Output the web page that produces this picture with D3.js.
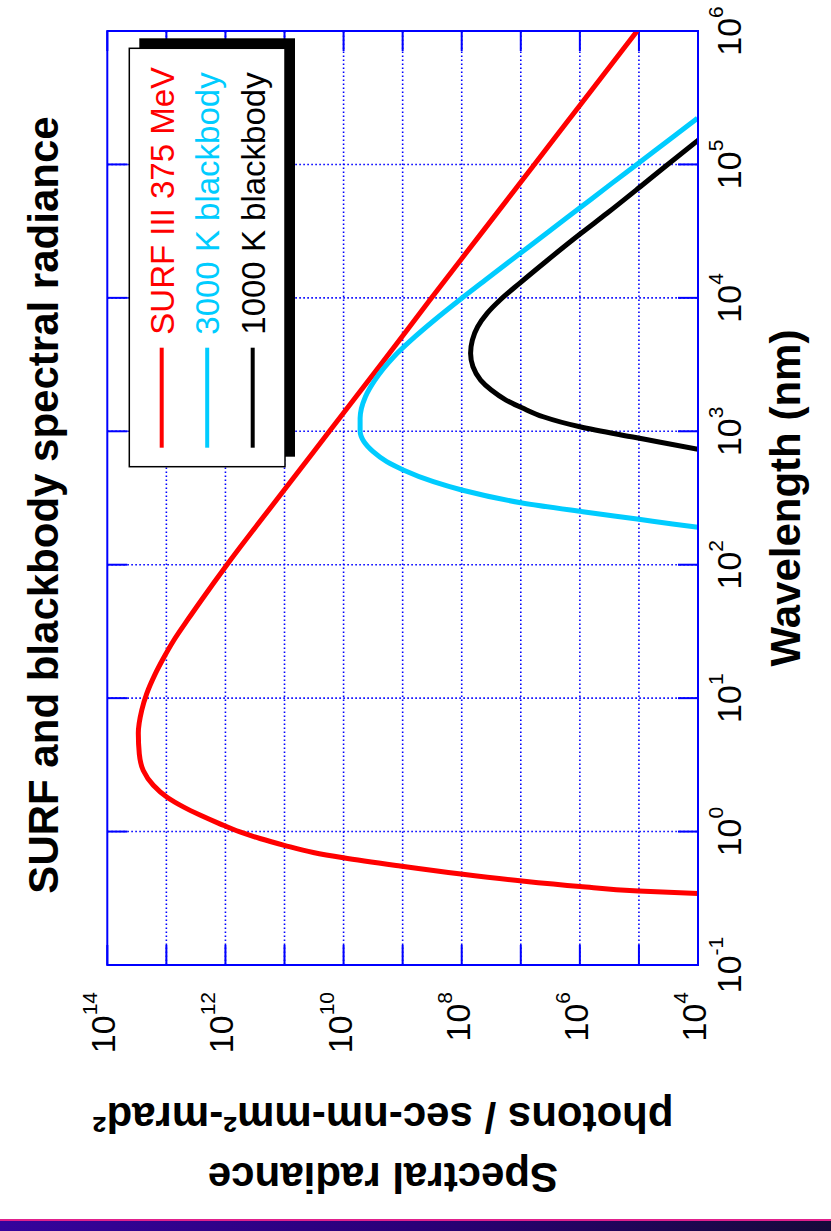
<!DOCTYPE html>
<html>
<head>
<meta charset="utf-8">
<script src="https://cdn.jsdelivr.net/npm/d3@7"></script>
<style>
body { margin: 0; background: #fff; }
svg { display: block; }
text { font-family: "Liberation Sans", Arial, Helvetica, sans-serif; }
</style>
</head>
<body>
<svg id="chart" width="831" height="1231"></svg>
<script>
// values (wavelength in nm, radiance in photons/sec-nm-mm2-mrad2)
var surfWl  = [0.3435, 0.3585, 0.3876, 0.4262, 0.4808, 0.5521, 0.6358, 0.6966, 0.7889, 0.8872, 0.9931,
               1.143, 1.330, 1.531, 1.816, 2.223, 2.871, 3.811, 5.445, 8.147, 10.86, 14.89, 19.91,
               27.29, 38.55, 54.45, 100, 316.2, 1000, 3162, 10000, 31620, 100000, 316200, 1000000];
var surfRad = [1.0e4, 1.014e5, 9.93e5, 9.53e6, 1.028e8, 1.109e9, 1.012e10, 3.258e10, 1.009e11, 2.60e11, 5.675e11,
               1.239e12, 2.698e12, 5.164e12, 9.863e12, 1.663e13, 2.460e13, 2.871e13, 2.985e13, 2.606e13, 2.143e13, 1.578e13, 1.122e13,
               7.430e12, 4.385e12, 2.541e12, 9.419e11, 1.288e11, 1.738e10, 2.344e9, 3.236e8, 4.365e7, 5.888e6, 7.943e5, 1.072e5];

var bb3000Wl  = [190.5, 201.8, 218.8, 249.5, 291.7, 363.1, 418.8, 512.9, 591.6, 703.1, 835.6, 1009, 1250,
                 1816, 2421, 3622, 5117, 6823, 9931, 13610, 21580, 31330, 45500, 72110, 101900, 147900, 221800];
var bb3000Rad = [1.0e4, 2.69e4, 1.0e5, 8.9e5, 1.0e7, 1.0e8, 3.02e8, 9.77e8, 1.86e9, 3.16e9, 4.52e9, 5.25e9, 5.25e9,
                 4.27e9, 2.95e9, 1.41e9, 6.17e8, 2.88e8, 1.0e8, 3.98e7, 1.02e7, 3.39e6, 1.12e6, 2.88e5, 1.02e5, 3.39e4, 1.02e4];

var bb1000Wl  = [732.8, 835.6, 901.6, 1081, 1285, 1493, 1714, 2037, 2421, 3048, 3837, 4831, 6081,
                 7656, 9638, 12850, 18660, 30480, 43050, 68080, 96160, 152400];
var bb1000Rad = [1.0e4, 4.79e4, 1.2e5, 1.0e6, 4.17e6, 9.33e6, 1.78e7, 3.16e7, 4.79e7, 6.46e7, 7.08e7, 6.61e7, 5.37e7,
                 3.72e7, 2.24e7, 1.05e7, 3.8e6, 9.55e5, 3.47e5, 9.5e4, 3.63e4, 9.8e3];

var wlTicks    = [0.1, 1, 10, 100, 1000, 1e4, 1e5, 1e6];
var wlTickExp  = ["-1", "0", "1", "2", "3", "4", "5", "6"];
var radTicks   = [1e4, 1e5, 1e6, 1e7, 1e8, 1e9, 1e10, 1e11, 1e12, 1e13, 1e14];
var radLabeled = [1e4, 1e6, 1e8, 1e10, 1e12, 1e14];
var radTickExp = ["4", "6", "8", "10", "12", "14"];

var seriesNames  = ["SURF III 375 MeV", "3000 K blackbody", "1000 K blackbody"];
var seriesColors = ["#ff0000", "#00ccff", "#000000"];
var titleText = "SURF and blackbody spectral radiance";
var xTitle = "Wavelength (nm)";
var yTitle1 = "Spectral radiance";
var yTitle2 = "photons / sec-nm-mm\u00b2-mrad\u00b2";

var series = [
  {name: seriesNames[0], color: seriesColors[0], pts: d3.zip(surfWl, surfRad)},
  {name: seriesNames[1], color: seriesColors[1], pts: d3.zip(bb3000Wl, bb3000Rad)},
  {name: seriesNames[2], color: seriesColors[2], pts: d3.zip(bb1000Wl, bb1000Rad)}
];

var svg = d3.select("#chart");
var axisBlue = "#0000ff";

// the whole figure is turned a quarter turn counter-clockwise
var g = svg.append("g")
    .attr("transform", "translate(0,1231) rotate(-90)");

var x = d3.scaleLog().domain([0.1, 1e6]).range([266, 1200]);
var y = d3.scaleLog().domain([1e4, 1e14]).range([698, 107.3]);

var x0 = x.range()[0], x1 = x.range()[1];
var y0 = y.range()[1], y1 = y.range()[0];

g.append("defs").append("clipPath").attr("id", "plotclip")
  .append("rect")
    .attr("x", x0).attr("y", y0)
    .attr("width", x1 - x0).attr("height", y1 - y0);

// dotted grid
g.append("g").selectAll("line")
    .data(wlTicks.slice(1, -1))
  .enter().append("line")
    .attr("x1", d => x(d)).attr("x2", d => x(d))
    .attr("y1", y0).attr("y2", y1)
    .attr("stroke", axisBlue).attr("stroke-width", 1.6)
    .attr("stroke-dasharray", "1.6,2.4");

g.append("g").selectAll("line")
    .data(radTicks.slice(1, -1))
  .enter().append("line")
    .attr("x1", x0).attr("x2", x1)
    .attr("y1", d => y(d)).attr("y2", d => y(d))
    .attr("stroke", axisBlue).attr("stroke-width", 1.6)
    .attr("stroke-dasharray", "1.6,2.4");

// ticks on all four sides, pointing inward
var tickLen = 20;
var ticks = g.append("g").attr("stroke", axisBlue).attr("stroke-width", 2);
wlTicks.forEach(function(d) {
  ticks.append("line").attr("x1", x(d)).attr("x2", x(d)).attr("y1", y1).attr("y2", y1 - tickLen);
  ticks.append("line").attr("x1", x(d)).attr("x2", x(d)).attr("y1", y0).attr("y2", y0 + tickLen);
});
radTicks.forEach(function(d) {
  ticks.append("line").attr("x1", x0).attr("x2", x0 + tickLen).attr("y1", y(d)).attr("y2", y(d));
  ticks.append("line").attr("x1", x1).attr("x2", x1 - tickLen).attr("y1", y(d)).attr("y2", y(d));
});

// curves
var line = d3.line()
    .x(d => x(d[0]))
    .y(d => y(d[1]))
    .curve(d3.curveMonotoneX);

g.append("g").attr("clip-path", "url(#plotclip)")
  .selectAll("path")
    .data(series)
  .enter().append("path")
    .attr("d", d => line(d.pts))
    .attr("fill", "none")
    .attr("stroke", d => d.color)
    .attr("stroke-width", 5)
    .attr("stroke-linejoin", "round");

// box
g.append("rect")
    .attr("x", x0).attr("y", y0)
    .attr("width", x1 - x0).attr("height", y1 - y0)
    .attr("fill", "none")
    .attr("stroke", axisBlue).attr("stroke-width", 2);

// wavelength tick labels
var xl = g.append("g").selectAll("text")
    .data(wlTicks)
  .enter().append("text")
    .attr("x", d => x(d))
    .attr("y", 741)
    .attr("text-anchor", "middle")
    .attr("font-size", 34)
    .attr("fill", "#000");
xl.append("tspan").text("10");
xl.append("tspan")
    .attr("dy", -18)
    .attr("font-size", 21)
    .text((d, i) => wlTickExp[i]);

// radiance tick labels
var yl = g.append("g").selectAll("text")
    .data(radLabeled)
  .enter().append("text")
    .attr("x", 239)
    .attr("y", d => y(d) + 8)
    .attr("text-anchor", "end")
    .attr("font-size", 34)
    .attr("fill", "#000");
yl.append("tspan").text("10");
yl.append("tspan")
    .attr("dy", -18)
    .attr("font-size", 21)
    .text((d, i) => radTickExp[i]);

// titles
g.append("text")
    .attr("x", 726).attr("y", 58)
    .attr("text-anchor", "middle")
    .attr("font-size", 42).attr("font-weight", "bold")
    .text(titleText);

g.append("text")
    .attr("x", 733).attr("y", 800)
    .attr("text-anchor", "middle")
    .attr("font-size", 42).attr("font-weight", "bold")
    .text(xTitle);

g.append("text")
    .attr("transform", "translate(68,383) rotate(-90)")
    .attr("text-anchor", "middle")
    .attr("font-size", 42).attr("font-weight", "bold")
    .text(yTitle1);

g.append("text")
    .attr("transform", "translate(128,383) rotate(-90)")
    .attr("text-anchor", "middle")
    .attr("font-size", 42).attr("font-weight", "bold")
    .text(yTitle2);

// legend with drop shadow
var lg = g.append("g");
var lx = 764.3, ly = 129.3, lw = 418.4, lh = 155.7;
lg.append("rect")
    .attr("x", lx + 10).attr("y", ly + 10)
    .attr("width", lw).attr("height", lh)
    .attr("fill", "#000");
lg.append("rect")
    .attr("x", lx).attr("y", ly)
    .attr("width", lw).attr("height", lh)
    .attr("fill", "#fff")
    .attr("stroke", "#000").attr("stroke-width", 1.5);

var rows = lg.selectAll("g.row")
    .data(series)
  .enter().append("g")
    .attr("class", "row")
    .attr("transform", (d, i) => "translate(0," + (ly + 32.4 + i * 45.5) + ")");
rows.append("line")
    .attr("x1", lx + 19).attr("x2", lx + 119)
    .attr("y1", 0).attr("y2", 0)
    .attr("stroke", d => d.color)
    .attr("stroke-width", 4);
rows.append("text")
    .attr("x", lx + 132).attr("y", 12)
    .attr("font-size", 33)
    .attr("fill", d => d.color)
    .text(d => d.name);

// purple strip along the bottom of the picture
var grad = svg.append("defs").append("linearGradient")
    .attr("id", "strip").attr("x1", "0").attr("x2", "1").attr("y1", "0").attr("y2", "0");
grad.append("stop").attr("offset", "0").attr("stop-color", "#35049c");
grad.append("stop").attr("offset", "0.5").attr("stop-color", "#2a0078");
grad.append("stop").attr("offset", "1").attr("stop-color", "#160a3a");
svg.append("rect")
    .attr("x", 0).attr("y", 1221).attr("width", 831).attr("height", 10)
    .attr("fill", "url(#strip)");
svg.append("rect")
    .attr("x", 0).attr("y", 1219).attr("width", 831).attr("height", 2)
    .attr("fill", "#e0208c");
</script>
</body>
</html>
